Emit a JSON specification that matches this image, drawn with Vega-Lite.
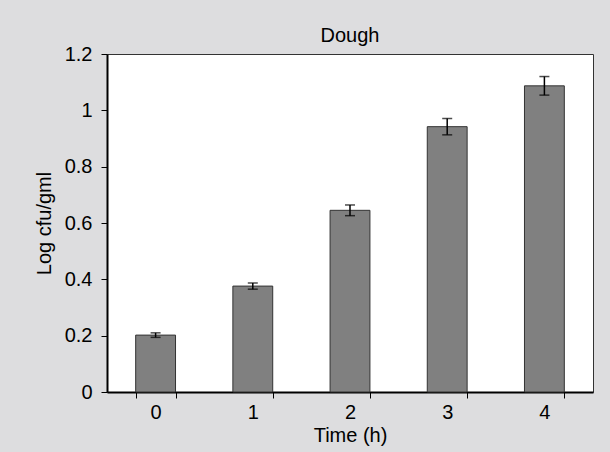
{
  "$schema": "https://vega.github.io/schema/vega-lite/v6.json",
  "autosize": {"type": "none"},
  "padding": {"left": 107, "top": 54, "right": 17, "bottom": 60},
  "width": 486,
  "height": 338,
  "background": "#dddddf",
  "title": {"text": "Dough", "fontSize": 20, "fontWeight": "normal", "color": "black", "font": "Liberation Sans, Arial, sans-serif", "offset": -2},
  "config": {
    "font": "Liberation Sans, Arial, sans-serif",
    "view": {"fill": "white", "stroke": "#333333", "strokeWidth": 1},
    "axis": {"grid": false, "domainColor": "black", "domainWidth": 2, "tickColor": "black", "tickWidth": 1, "tickSize": 6, "labelColor": "black", "labelFontSize": 20, "titleColor": "black", "titleFontSize": 20, "titleFontWeight": "normal"}
  },
  "data": {"values": [
    {"Time": "0", "mean": 0.202, "err": 0.008},
    {"Time": "1", "mean": 0.376, "err": 0.011},
    {"Time": "2", "mean": 0.645, "err": 0.019},
    {"Time": "3", "mean": 0.942, "err": 0.029},
    {"Time": "4", "mean": 1.087, "err": 0.033}
  ]},
  "encoding": {
    "x": {"field": "Time", "type": "ordinal", "scale": {"paddingInner": 0.59, "paddingOuter": 0.295}, "axis": {"title": "Time (h)", "labelAngle": 0, "tickBand": "extent", "labelPadding": 4, "titlePadding": 3}}
  },
  "layer": [
    {
      "mark": {"type": "bar", "fill": "#808080", "stroke": "#333333", "strokeWidth": 1},
      "encoding": {
        "y": {"field": "mean", "type": "quantitative", "title": "Log cfu/gml", "scale": {"domain": [0, 1.2]}, "axis": {"title": "Log cfu/gml", "values": [0, 0.2, 0.4, 0.6, 0.8, 1, 1.2], "format": "~g", "labelPadding": 9, "titlePadding": 10}}
      }
    },
    {
      "mark": {"type": "errorbar", "ticks": {"size": 10, "thickness": 1.5, "color": "black"}, "rule": {"strokeWidth": 1.5, "color": "black"}},
      "encoding": {
        "y": {"field": "mean", "type": "quantitative", "title": "Log cfu/gml"},
        "yError": {"field": "err"}
      }
    }
  ]
}
